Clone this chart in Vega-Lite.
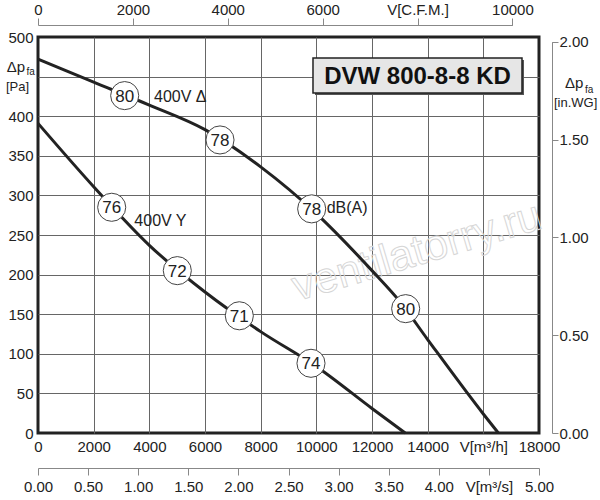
{
  "$schema": "https://vega.github.io/schema/vega-lite/v6.json",
  "width": 501,
  "height": 396,
  "autosize": {"type": "none"},
  "padding": {"left": 38, "top": 37, "right": 61, "bottom": 67},
  "background": "white",
  "config": {
    "view": {"stroke": "#222", "strokeWidth": 3},
    "font": "Liberation Sans",
    "axis": {"labelFont": "Liberation Sans", "labelFontSize": 15, "labelColor": "#222", "labelFlush": false, "labelOverlap": false}
  },
  "datasets": {
    "curves": [
      {"curve": "400V Δ", "q": 0, "p": 472},
      {"curve": "400V Δ", "q": 2000, "p": 443},
      {"curve": "400V Δ", "q": 4000, "p": 414},
      {"curve": "400V Δ", "q": 6000, "p": 383},
      {"curve": "400V Δ", "q": 8000, "p": 336},
      {"curve": "400V Δ", "q": 10000, "p": 277},
      {"curve": "400V Δ", "q": 12000, "p": 205},
      {"curve": "400V Δ", "q": 13000, "p": 166},
      {"curve": "400V Δ", "q": 14000, "p": 118},
      {"curve": "400V Δ", "q": 16000, "p": 24},
      {"curve": "400V Δ", "q": 16540, "p": 0},
      {"curve": "400V Y", "q": 0, "p": 391},
      {"curve": "400V Y", "q": 2000, "p": 311},
      {"curve": "400V Y", "q": 4000, "p": 237},
      {"curve": "400V Y", "q": 6000, "p": 178},
      {"curve": "400V Y", "q": 8000, "p": 128},
      {"curve": "400V Y", "q": 10000, "p": 84},
      {"curve": "400V Y", "q": 12000, "p": 31},
      {"curve": "400V Y", "q": 13190, "p": 0}
    ],
    "levels": [
      {"curve": "400V Δ", "q": 3115, "p": 426, "dB": 80},
      {"curve": "400V Δ", "q": 6539, "p": 370, "dB": 78},
      {"curve": "400V Δ", "q": 9833, "p": 283, "dB": 78},
      {"curve": "400V Δ", "q": 13210, "p": 157, "dB": 80},
      {"curve": "400V Y", "q": 2648, "p": 285, "dB": 76},
      {"curve": "400V Y", "q": 5005, "p": 205, "dB": 72},
      {"curve": "400V Y", "q": 7233, "p": 148, "dB": 71},
      {"curve": "400V Y", "q": 9808, "p": 88, "dB": 74}
    ],
    "notes": [
      {"t": "400V Δ", "q": 4168, "p": 424.6},
      {"t": "400V Y", "q": 3461, "p": 267.7},
      {"t": "dB(A)", "q": 10372, "p": 283.7}
    ],
    "frame": [
      {"name": "DVW 800-8-8 KD", "q": 9880, "q2": 17389, "p": 473.5, "p2": 429.3, "qc": 13635, "pc": 450.8}
    ],
    "big": [
      {"t": "Δp", "q": -1125, "p": 455.2},
      {"t": "Δp", "q": 18934, "p": 435}
    ],
    "sub": [
      {"t": "fa", "q": -413, "p": 452},
      {"t": "fa", "q": 19653, "p": 429.3}
    ],
    "unit": [
      {"t": "[Pa]", "q": -1150, "p": 432.4},
      {"t": "[in.WG]", "q": 18539, "p": 411}
    ],
    "mark": [
      {"t": "ventilatorry.ru", "q": 13617, "p": 228.5}
    ]
  },
  "layer": [
    {
      "encoding": {
        "x": {
          "field": "q", "type": "quantitative",
          "scale": {"domain": [0, 18000], "nice": false, "zero": false},
          "axis": {
            "orient": "bottom", "title": null,
            "values": [0, 2000, 4000, 6000, 8000, 10000, 12000, 14000, 16000, 18000],
            "format": "d",
            "labelExpr": "datum.value == 16000 ? 'V[m³/h]' : datum.label",
            "grid": true, "gridColor": "#666", "gridWidth": 1,
            "gridOpacity": {"condition": {"test": "datum.value == 0 || datum.value == 18000", "value": 0}, "value": 1},
            "ticks": false, "tickSize": 0, "domain": false, "labelPadding": 6
          }
        },
        "y": {
          "field": "p", "type": "quantitative",
          "scale": {"domain": [0, 500], "nice": false, "zero": false},
          "axis": {
            "orient": "left", "title": null,
            "values": [0, 50, 100, 150, 200, 250, 300, 350, 400, 450, 500],
            "format": "d",
            "labelExpr": "datum.value == 450 ? '' : datum.label",
            "grid": true, "gridColor": "#666", "gridWidth": 1,
            "gridOpacity": {"condition": {"test": "datum.value == 0 || datum.value == 500", "value": 0}, "value": 1},
            "ticks": false, "tickSize": 0, "domain": false, "labelPadding": 5
          }
        }
      },
      "layer": [
        {
          "data": {"name": "mark"},
          "mark": {"type": "text", "fontSize": 43, "angle": -16.5, "align": "center", "baseline": "middle", "fillOpacity": 0, "stroke": "#d6d6d6", "strokeWidth": 1},
          "encoding": {"text": {"field": "t"}}
        },
        {
          "data": {"name": "curves"},
          "mark": {"type": "line", "interpolate": "monotone", "color": "#222", "strokeWidth": 3},
          "encoding": {"detail": {"field": "curve"}}
        },
        {
          "data": {"name": "levels"},
          "mark": {"type": "point", "shape": "circle", "filled": true, "fill": "white", "stroke": "#444", "strokeWidth": 1, "size": 790, "opacity": 1}
        },
        {
          "data": {"name": "levels"},
          "mark": {"type": "text", "fontSize": 17, "align": "center", "baseline": "middle", "color": "#222", "dy": 1},
          "encoding": {"text": {"field": "dB", "type": "quantitative"}}
        },
        {
          "data": {"name": "notes"},
          "mark": {"type": "text", "fontSize": 16, "align": "left", "baseline": "middle", "color": "#222"},
          "encoding": {"text": {"field": "t"}}
        },
        {
          "data": {"name": "frame"},
          "mark": {"type": "rect", "fill": "#555", "xOffset": 2, "yOffset": 2, "x2Offset": 2, "y2Offset": 2},
          "encoding": {"x2": {"field": "q2"}, "y2": {"field": "p2"}}
        },
        {
          "data": {"name": "frame"},
          "mark": {"type": "rect", "fill": "#e6e6e6", "stroke": "#222", "strokeWidth": 1.5},
          "encoding": {"x2": {"field": "q2"}, "y2": {"field": "p2"}}
        },
        {
          "data": {"name": "frame"},
          "mark": {"type": "text", "fontSize": 24, "fontWeight": "bold", "align": "center", "baseline": "middle", "color": "#111", "dy": 1},
          "encoding": {"x": {"field": "qc", "type": "quantitative"}, "y": {"field": "pc", "type": "quantitative"}, "text": {"field": "name"}}
        },
        {
          "data": {"name": "big"},
          "mark": {"type": "text", "fontSize": 15, "align": "left", "baseline": "alphabetic", "color": "#222"},
          "encoding": {"text": {"field": "t"}}
        },
        {
          "data": {"name": "sub"},
          "mark": {"type": "text", "fontSize": 10, "align": "left", "baseline": "alphabetic", "color": "#222"},
          "encoding": {"text": {"field": "t"}}
        },
        {
          "data": {"name": "unit"},
          "mark": {"type": "text", "fontSize": 13, "align": "left", "baseline": "alphabetic", "color": "#222"},
          "encoding": {"text": {"field": "t"}}
        }
      ]
    },
    {
      "data": {"values": [{}]},
      "mark": {"type": "point", "opacity": 0},
      "encoding": {
        "x": {
          "datum": 0, "type": "quantitative",
          "scale": {"domain": [0, 10000], "range": [0, 474.4], "nice": false, "zero": false},
          "axis": {
            "orient": "top", "offset": 12, "title": null,
            "values": [0, 2000, 4000, 6000, 8000, 10000],
            "format": "d",
            "labelExpr": "datum.value == 8000 ? 'V[C.F.M.]' : datum.label",
            "grid": false, "tickSize": 7, "tickColor": "#888", "domainColor": "#888", "labelPadding": 1
          }
        },
        "y": {
          "datum": 0, "type": "quantitative",
          "scale": {"domain": [0, 2], "range": [396, 4.7], "nice": false, "zero": false},
          "axis": {
            "orient": "right", "offset": 13, "title": null,
            "values": [0, 0.5, 1, 1.5, 2],
            "format": ".2f",
            "grid": false, "tickSize": 6, "tickColor": "#888", "domainColor": "#888", "labelPadding": 1
          }
        }
      }
    },
    {
      "data": {"values": [{}]},
      "mark": {"type": "point", "opacity": 0},
      "encoding": {
        "x": {
          "datum": 0, "type": "quantitative",
          "scale": {"domain": [0, 5], "nice": false, "zero": false},
          "axis": {
            "orient": "bottom", "offset": 35, "title": null,
            "values": [0, 0.5, 1, 1.5, 2, 2.5, 3, 3.5, 4, 4.5, 5],
            "format": ".2f",
            "labelExpr": "datum.value == 4.5 ? 'V[m³/s]' : datum.label",
            "grid": false, "tickSize": 7, "tickColor": "#888", "domainColor": "#888", "labelPadding": 4
          }
        }
      }
    }
  ],
  "resolve": {"scale": {"x": "independent", "y": "independent"}}
}
